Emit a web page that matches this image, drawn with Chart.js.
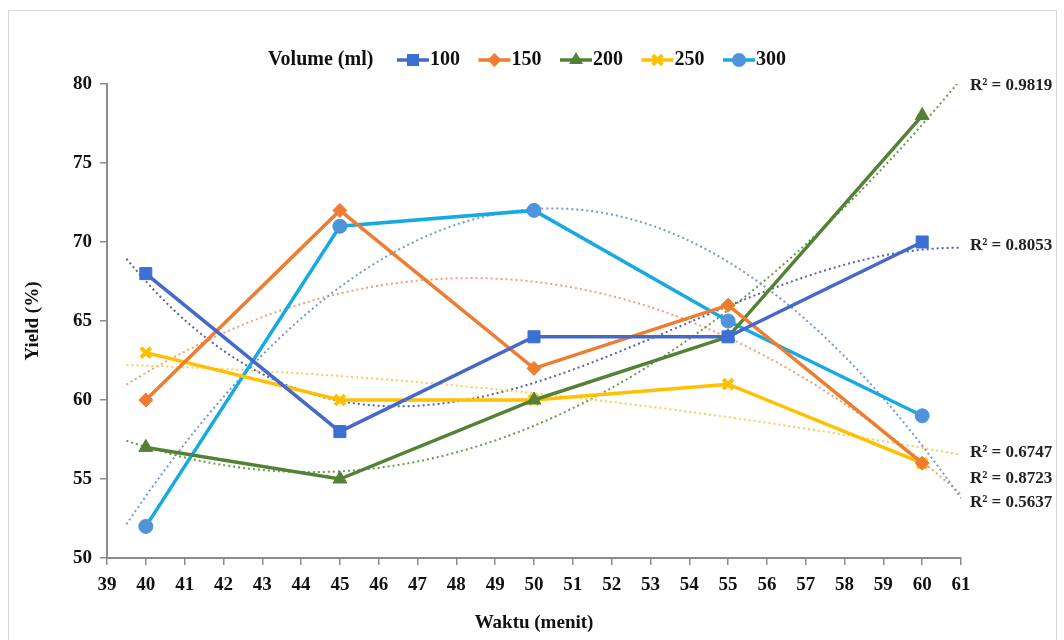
<!DOCTYPE html>
<html><head><meta charset="utf-8">
<script src="https://cdn.jsdelivr.net/npm/chart.js@4.4.1/dist/chart.umd.min.js"></script>
<style>html,body{margin:0;padding:0;background:#fff}#wrap{width:1064px;height:640px;position:relative}</style>
</head><body><div id="wrap"><canvas id="c" width="1064" height="640"></canvas></div>
<script>
// ---- data ----
const waktu = [40, 45, 50, 55, 60];
const seriesNames = ['100', '150', '200', '250', '300'];
const y100 = [68, 58, 64, 64, 70];
const y150 = [60, 72, 62, 66, 56];
const y200 = [57, 55, 60, 64, 78];
const y250 = [63, 60, 60, 61, 56];
const y300 = [52, 71, 72, 65, 59];
const trendOrder = [3, 2, 2, 2, 2];
const r2Labels = ['R² = 0.8053', 'R² = 0.5637', 'R² = 0.9819', 'R² = 0.6747', 'R² = 0.8723'];
const r2LabelY = [69.8, 53.5, 79.9, 56.65, 55.05];
const legendTitle = 'Volume (ml)';
const xTitle = 'Waktu (menit)';
const yTitle = 'Yield (%)';

// ---- styles ----
const lineColors = ['#4668C8', '#ED7D31', '#548235', '#FFC000', '#17A9E1'];
const markerColors = ['#3B6FD4', '#ED7D31', '#548235', '#FFC000', '#4E93DB'];
const trendColors = ['#55649c', '#f0a070', '#6b9a4a', '#f3cf55', '#7a98c8'];
const markers = ['rect', 'rectRot', 'triangle', 'crossRot', 'circle'];
const markerRadius = [8.5, 7, 8, 7, 7];
const FONT = "'Liberation Serif', 'Times New Roman', serif";

const allY = [y100, y150, y200, y250, y300];

function polyFit(xs, ys, order) {
  const n = order + 1, m = xs.length;
  const xc = 50;
  const A = [], b = [];
  for (let i = 0; i < n; i++) {
    A.push(new Array(n).fill(0)); b.push(0);
    for (let k = 0; k < m; k++) {
      const t = xs[k] - xc;
      b[i] += ys[k] * Math.pow(t, i);
      for (let j = 0; j < n; j++) A[i][j] += Math.pow(t, i + j);
    }
  }
  for (let i = 0; i < n; i++) {
    let p = i;
    for (let r = i + 1; r < n; r++) if (Math.abs(A[r][i]) > Math.abs(A[p][i])) p = r;
    [A[i], A[p]] = [A[p], A[i]]; [b[i], b[p]] = [b[p], b[i]];
    for (let r = i + 1; r < n; r++) {
      const f = A[r][i] / A[i][i];
      for (let c = i; c < n; c++) A[r][c] -= f * A[i][c];
      b[r] -= f * b[i];
    }
  }
  const coef = new Array(n).fill(0);
  for (let i = n - 1; i >= 0; i--) {
    let s = b[i];
    for (let j = i + 1; j < n; j++) s -= A[i][j] * coef[j];
    coef[i] = s / A[i][i];
  }
  return x => coef.reduce((acc, c, i) => acc + c * Math.pow(x - xc, i), 0);
}

const datasets = allY.map((ys, i) => ({
  label: seriesNames[i],
  data: waktu.map((x, k) => ({ x, y: ys[k] })),
  showLine: true,
  borderColor: lineColors[i],
  backgroundColor: markerColors[i],
  pointBackgroundColor: markerColors[i],
  pointBorderColor: markerColors[i],
  pointStyle: markers[i],
  pointRadius: markerRadius[i],
  pointBorderWidth: markers[i] === 'crossRot' ? 4 : 1,
  borderWidth: 3.5,
  tension: 0
}));

function drawMarker(ctx, style, x, y, r, color, bw) {
  ctx.save();
  ctx.fillStyle = color; ctx.strokeStyle = color; ctx.lineWidth = bw;
  ctx.beginPath();
  if (style === 'rect') { const s = r * Math.SQRT1_2; ctx.rect(x - s, y - s, s * 2, s * 2); ctx.fill(); }
  else if (style === 'rectRot') { ctx.moveTo(x, y - r); ctx.lineTo(x + r, y); ctx.lineTo(x, y + r); ctx.lineTo(x - r, y); ctx.closePath(); ctx.fill(); }
  else if (style === 'triangle') { ctx.moveTo(x, y - r); ctx.lineTo(x + r * 0.87, y + r * 0.5); ctx.lineTo(x - r * 0.87, y + r * 0.5); ctx.closePath(); ctx.fill(); }
  else if (style === 'crossRot') { const d = r * 0.7; ctx.moveTo(x - d, y - d); ctx.lineTo(x + d, y + d); ctx.moveTo(x + d, y - d); ctx.lineTo(x - d, y + d); ctx.stroke(); }
  else { ctx.arc(x, y, r, 0, Math.PI * 2); ctx.fill(); }
  ctx.restore();
}

const extras = {
  id: 'extras',
  beforeDraw(chart) {
    const ctx = chart.ctx;
    ctx.save();
    ctx.fillStyle = '#fff'; ctx.fillRect(0, 0, chart.width, chart.height);
    ctx.strokeStyle = '#d9d9d9'; ctx.lineWidth = 1;
    ctx.strokeRect(8.5, 10.5, 1048, 640);
    ctx.restore();
  },
  beforeDatasetsDraw(chart) {
    const ctx = chart.ctx, xs = chart.scales.x, ys = chart.scales.y, ca = chart.chartArea;
    ctx.save();
    ctx.beginPath(); ctx.rect(ca.left, ca.top, ca.right - ca.left, ca.bottom - ca.top); ctx.clip();
    allY.forEach((yv, i) => {
      const f = polyFit(waktu, yv, trendOrder[i]);
      ctx.beginPath();
      ctx.strokeStyle = trendColors[i]; ctx.lineWidth = 2; ctx.setLineDash([2, 3]);
      const x0 = 39.5, x1 = 61, steps = 200;
      for (let s = 0; s <= steps; s++) {
        const xv = x0 + (x1 - x0) * s / steps;
        const px = xs.getPixelForValue(xv), py = ys.getPixelForValue(f(xv));
        if (s === 0) ctx.moveTo(px, py); else ctx.lineTo(px, py);
      }
      ctx.stroke();
    });
    ctx.restore();
  },
  afterDraw(chart) {
    const ctx = chart.ctx, ys = chart.scales.y, ca = chart.chartArea;
    ctx.save();
    // R² labels
    ctx.fillStyle = '#222'; ctx.font = "bold 17px " + FONT; ctx.textBaseline = 'middle'; ctx.textAlign = 'left';
    r2Labels.forEach((t, i) => ctx.fillText(t, ca.right + 9, ys.getPixelForValue(r2LabelY[i])));
    // legend
    const ly = 60;
    ctx.font = "bold 20px " + FONT; ctx.fillStyle = '#111';
    ctx.fillText(legendTitle, 268, ly);
    let x = 397;
    chart.data.datasets.forEach((ds, i) => {
      ctx.strokeStyle = lineColors[i]; ctx.lineWidth = 3.5; ctx.setLineDash([]);
      ctx.beginPath(); ctx.moveTo(x, ly); ctx.lineTo(x + 32, ly); ctx.stroke();
      drawMarker(ctx, markers[i], x + 16, ly, markerRadius[i], markerColors[i], markers[i] === 'crossRot' ? 4 : 1);
      ctx.fillStyle = '#111';
      ctx.fillText(ds.label, x + 33, ly);
      x += 81.5;
    });
    ctx.restore();
  }
};

new Chart(document.getElementById('c'), {
  type: 'scatter',
  data: { datasets },
  plugins: [extras],
  options: {
    responsive: false,
    animation: false,
    layout: { padding: { top: 84, right: 103, left: 0, bottom: 0 } },
    plugins: { legend: { display: false }, tooltip: { enabled: false } },
    scales: {
      x: {
        type: 'linear', min: 39, max: 61,
        afterFit(s) { s.height = 82; },
        ticks: { stepSize: 1, color: '#111', padding: 9, maxRotation: 0, autoSkip: false, font: { family: FONT, size: 19, weight: 'bold' } },
        grid: { drawOnChartArea: false, tickLength: 7, color: '#8c8c8c', lineWidth: 1.5 },
        border: { color: '#8c8c8c', width: 2 },
        title: { display: true, text: xTitle, color: '#111', padding: { top: 0, bottom: 6 }, font: { family: FONT, size: 19, weight: 'bold' } }
      },
      y: {
        min: 50, max: 80,
        afterFit(s) { s.width = 107; },
        ticks: { stepSize: 5, color: '#111', padding: 8, font: { family: FONT, size: 19, weight: 'bold' } },
        grid: { drawOnChartArea: false, tickLength: 7, color: '#8c8c8c', lineWidth: 1.5 },
        border: { color: '#8c8c8c', width: 2 },
        title: { display: true, text: yTitle, color: '#111', padding: { top: 22, bottom: 0 }, font: { family: FONT, size: 19, weight: 'bold' } }
      }
    }
  }
});
</script></body></html>
